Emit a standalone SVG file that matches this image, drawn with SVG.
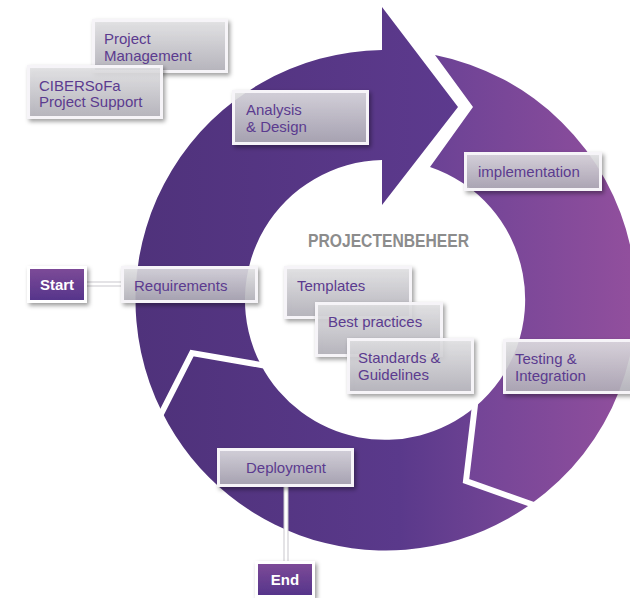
<svg xmlns="http://www.w3.org/2000/svg" width="630" height="598" viewBox="0 0 630 598">
<defs>
<linearGradient id="gA" gradientUnits="userSpaceOnUse" x1="135" y1="0" x2="460" y2="0">
<stop offset="0" stop-color="#4f327b"/><stop offset="1" stop-color="#5d3a8e"/>
</linearGradient>
<linearGradient id="gB" gradientUnits="userSpaceOnUse" x1="160" y1="0" x2="540" y2="0">
<stop offset="0" stop-color="#4f327b"/><stop offset="0.63" stop-color="#5a398b"/><stop offset="1" stop-color="#7a4898"/>
</linearGradient>
<linearGradient id="gC" gradientUnits="userSpaceOnUse" x1="430" y1="0" x2="630" y2="0">
<stop offset="0" stop-color="#6b4295"/><stop offset="1" stop-color="#914f9d"/>
</linearGradient>
<linearGradient id="gBox" x1="0" y1="0" x2="0" y2="1">
<stop offset="0" stop-color="#e4e4e6"/><stop offset="1" stop-color="#b2b0b9"/>
</linearGradient>
<linearGradient id="gTerm" x1="0" y1="0" x2="0" y2="1">
<stop offset="0" stop-color="#7e4b98"/><stop offset="1" stop-color="#54348a"/>
</linearGradient>
<filter id="sh" x="-20%" y="-30%" width="140%" height="160%">
<feDropShadow dx="2" dy="2.5" stdDeviation="2" flood-color="#000" flood-opacity="0.4"/>
</filter>
<style>
.box{fill:url(#gBox);fill-opacity:0.86;stroke:#f6f4f8;stroke-width:3;filter:url(#sh)}
.term{fill:url(#gTerm);stroke:#ffffff;stroke-width:3;filter:url(#sh)}
.lbl{font-family:"Liberation Sans",Arial,sans-serif;font-size:15px;fill:#5b3b8f}
.tl{font-family:"Liberation Sans",Arial,sans-serif;font-size:15px;font-weight:bold;fill:#ffffff}
.gap{fill:none;stroke:#ffffff;stroke-width:6;stroke-linejoin:miter;stroke-linecap:square}
.conb{fill:none;stroke:#c9c7cd;stroke-width:5}
.con{fill:none;stroke:#ffffff;stroke-width:3}
</style>
</defs>
<rect x="0" y="0" width="630" height="598" fill="#ffffff"/>
<g id="ring">
<path d="M382,50 L382,7 L458,107 L382,205 L382,160 A140,140 0 0 0 261,365 L192,353 L162,412 A250,250 0 0 1 382,50 Z" fill="url(#gA)"/>
<path d="M475,407 A140,140 0 0 1 261,365 L192,353 L162,412 A250,250 0 0 0 531,504 L466,481 Z" fill="url(#gB)"/>
<path d="M435,55 L473,107 L430,167 A140,140 0 0 1 475,407 L466,481 L531,504 A250,250 0 0 0 435,55 Z" fill="url(#gC)"/>
<polyline class="gap" points="162,412 192,353 261,365"/>
<polyline class="gap" points="475,405 466,481 531,504"/>
</g>
<text x="308" y="247" textLength="161" lengthAdjust="spacingAndGlyphs" font-family="Liberation Sans, Arial, sans-serif" font-size="18" font-weight="bold" fill="#8c8c8c">PROJECTENBEHEER</text>
<g id="connectors">
<line class="conb" x1="86" y1="284" x2="122" y2="284"/>
<line class="con" x1="86" y1="284" x2="122" y2="284"/>
<line class="conb" x1="286" y1="486" x2="286" y2="562"/>
<line class="con" x1="286" y1="486" x2="286" y2="562"/>
</g>
<g id="pm">
<rect class="box" x="93.5" y="20.5" width="133" height="51"/>
<text class="lbl" x="104" y="44">Project</text>
<text class="lbl" x="104" y="61">Management</text>
</g>
<g id="cibersofa">
<rect class="box" x="28.5" y="66.5" width="133" height="51"/>
<text class="lbl" x="39" y="91">CIBERSoFa</text>
<text class="lbl" x="39" y="107">Project Support</text>
</g>
<g id="analysis">
<rect class="box" x="233.5" y="91.5" width="134" height="52"/>
<text class="lbl" x="246" y="115">Analysis</text>
<text class="lbl" x="246" y="132">&amp; Design</text>
</g>
<g id="implementation">
<rect class="box" x="465.5" y="153.5" width="135" height="36"/>
<text class="lbl" x="478" y="177">implementation</text>
</g>
<g id="start">
<rect class="term" x="28.5" y="267.5" width="57" height="34"/>
<text class="tl" x="57" y="290" text-anchor="middle">Start</text>
</g>
<g id="requirements">
<rect class="box" x="122.5" y="267.5" width="134" height="34"/>
<text class="lbl" x="134" y="291">Requirements</text>
</g>
<g id="templates">
<rect class="box" x="285.5" y="267.5" width="125" height="50"/>
<text class="lbl" x="297" y="291">Templates</text>
</g>
<g id="bestpractices">
<rect class="box" x="316.5" y="303.5" width="125" height="52"/>
<text class="lbl" x="328" y="327">Best practices</text>
</g>
<g id="standards">
<rect class="box" x="348.5" y="339.5" width="124" height="53"/>
<text class="lbl" x="358" y="363">Standards &amp;</text>
<text class="lbl" x="358" y="380">Guidelines</text>
</g>
<g id="testing">
<rect class="box" x="504.5" y="340.5" width="128" height="52"/>
<text class="lbl" x="515" y="364">Testing &amp;</text>
<text class="lbl" x="515" y="381">Integration</text>
</g>
<g id="deployment">
<rect class="box" x="218.5" y="449.5" width="134" height="36"/>
<text class="lbl" x="286" y="473" text-anchor="middle">Deployment</text>
</g>
<g id="end">
<rect class="term" x="256.5" y="562.5" width="57" height="34"/>
<text class="tl" x="285" y="585" text-anchor="middle">End</text>
</g>
</svg>
